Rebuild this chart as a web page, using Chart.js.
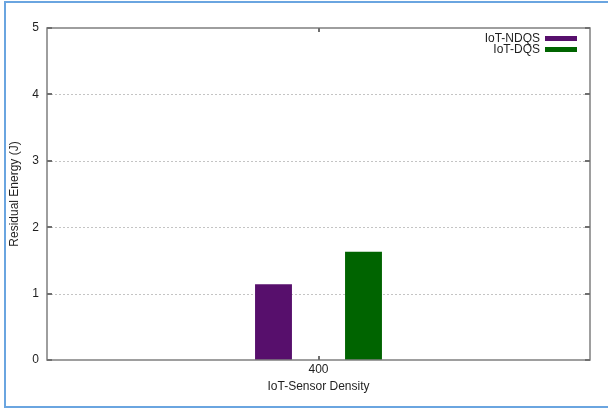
<!DOCTYPE html>
<html>
<head>
<meta charset="utf-8">
<script src="https://cdn.jsdelivr.net/npm/chart.js@4.4.0/dist/chart.umd.min.js"></script>
<style>
  html, body { margin: 0; padding: 0; background: #ffffff; overflow: hidden; }
  #wrap { position: relative; width: 608px; height: 409px; }
</style>
</head>
<body>
<div id="wrap"><canvas id="c" width="608" height="409"></canvas></div>
<script>
// Residual energy per protocol at each sensor density
const categories = ['400'];
const seriesNames = ['IoT-NDQS', 'IoT-DQS'];
const ndqsValues = [1.14];
const dqsValues = [1.63];
const yTicks = [0, 1, 2, 3, 4, 5];
const seriesColors = ['#570f6c', '#006400'];

const FONT = "'Liberation Sans', Arial, Helvetica, sans-serif";
const TEXT = '#1f1f1f';
const AXIS = '#7f7f7f';

// Frame, inward ticks, outer border and a gnuplot-style key
const framePlugin = {
  id: 'frame',
  beforeDatasetsDraw(chart) {
    const { ctx, chartArea: a, scales } = chart;
    ctx.save();
    // dotted horizontal grid, skipping the frame edges
    ctx.strokeStyle = '#c4c4c4';
    ctx.lineWidth = 1;
    ctx.setLineDash([2, 2]);
    yTicks.forEach(v => {
      if (v === yTicks[0] || v === yTicks[yTicks.length - 1]) return;
      const y = Math.round(scales.y.getPixelForValue(v)) + 0.5;
      ctx.beginPath();
      ctx.moveTo(a.left + 4, y);
      ctx.lineTo(a.right - 4, y);
      ctx.stroke();
    });
    ctx.restore();
  },
  afterDatasetsDraw(chart) {
    const { ctx, chartArea: a, scales } = chart;
    ctx.save();
    ctx.strokeStyle = AXIS;
    ctx.lineWidth = 1.5;
    ctx.strokeRect(a.left, a.top, a.right - a.left, a.bottom - a.top);
    // inward ticks on both y edges
    ctx.lineWidth = 2;
    ctx.strokeStyle = '#6f6f6f';
    yTicks.forEach(v => {
      const y = Math.round(scales.y.getPixelForValue(v));
      ctx.beginPath();
      ctx.moveTo(a.left, y); ctx.lineTo(a.left + 5, y);
      ctx.moveTo(a.right, y); ctx.lineTo(a.right - 5, y);
      ctx.stroke();
    });
    // inward tick at each category, top and bottom
    categories.forEach((c, i) => {
      const x = Math.round(scales.x.getPixelForValue(i));
      ctx.beginPath();
      ctx.moveTo(x, a.bottom); ctx.lineTo(x, a.bottom - 4);
      ctx.moveTo(x, a.top); ctx.lineTo(x, a.top + 4);
      ctx.stroke();
    });
    // key: right-aligned names with colour swatches
    ctx.font = '12px ' + FONT;
    ctx.fillStyle = TEXT;
    ctx.textAlign = 'right';
    ctx.textBaseline = 'middle';
    chart.data.datasets.forEach((ds, i) => {
      const y = 38.5 + i * 11;
      ctx.fillText(ds.label, 540, y);
      ctx.fillStyle = ds.backgroundColor;
      ctx.fillRect(545, y - 2.5, 32, 5);
      ctx.fillStyle = TEXT;
    });
    ctx.restore();
  },
  afterDraw(chart) {
    const { ctx } = chart;
    ctx.save();
    ctx.strokeStyle = '#6aa5e0';
    ctx.lineWidth = 2;
    ctx.beginPath();
    ctx.moveTo(640, 2);
    ctx.lineTo(5, 2);
    ctx.lineTo(5, 407);
    ctx.lineTo(640, 407);
    ctx.stroke();
    ctx.restore();
  }
};

new Chart(document.getElementById('c'), {
  type: 'bar',
  data: {
    labels: categories,
    datasets: [
      { label: seriesNames[0], data: ndqsValues, backgroundColor: seriesColors[0] },
      { label: seriesNames[1], data: dqsValues, backgroundColor: seriesColors[1] }
    ]
  },
  options: {
    responsive: false,
    animation: false,
    devicePixelRatio: 1,
    layout: { padding: { left: 0, top: 28, right: 18, bottom: 0 } },
    datasets: { bar: { categoryPercentage: 0.3315, barPercentage: 0.41 } },
    plugins: { legend: { display: false }, tooltip: { enabled: false } },
    scales: {
      x: {
        grid: { display: false, drawTicks: false },
        border: { display: false },
        ticks: { color: TEXT, font: { family: FONT, size: 12 }, padding: 2 },
        title: { display: true, text: 'IoT-Sensor Density', color: TEXT,
                 font: { family: FONT, size: 12 }, padding: { top: 4, bottom: 15 } },
        afterFit(scale) { scale.height = 49; }
      },
      y: {
        min: 0, max: 5,
        afterBuildTicks(scale) { scale.ticks = yTicks.map(v => ({ value: v })); },
        grid: { display: false, drawTicks: false },
        border: { display: false },
        ticks: { color: TEXT, font: { family: FONT, size: 12 }, padding: 8 },
        title: { display: true, text: 'Residual Energy (J)', color: TEXT,
                 font: { family: FONT, size: 12 }, padding: { top: 7, bottom: 0 } },
        afterFit(scale) { scale.width = 47; }
      }
    }
  },
  plugins: [framePlugin]
});
</script>
</body>
</html>
